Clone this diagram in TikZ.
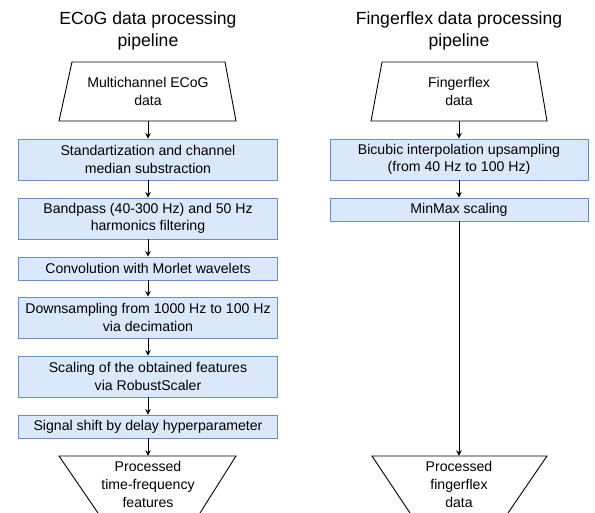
\documentclass[tikz,border=0pt]{standalone}
\usepackage{fontspec}
\setmainfont{Liberation Sans}
\usetikzlibrary{arrows.meta}
\definecolor{boxfill}{HTML}{DAE8FC}
\definecolor{boxline}{HTML}{6C8EBF}
\tikzset{
  stepbox/.style={draw=boxline, fill=boxfill, line width=0.9bp, minimum width=259bp, align=center, inner sep=0pt, font=\fontsize{14.1bp}{17.6bp}\selectfont},
  plain/.style={align=center, inner sep=0pt, font=\fontsize{14.1bp}{17.6bp}\selectfont},
  title/.style={align=center, inner sep=0pt, font=\fontsize{17.6bp}{21.5bp}\selectfont},
  flow/.style={-{Stealth[length=5.5bp,width=5.5bp]}, line width=0.9bp},
  outline/.style={draw=black, line width=0.9bp}
}
\begin{document}
\begin{tikzpicture}[x=1bp,y=-1bp]
\useasboundingbox (0,0) rectangle (595,513);
% Titles
\node[title] (tl) at (148,31) {ECoG data processing\\pipeline};
\node[title] (tr) at (459,31) {Fingerflex data processing\\pipeline};

% ---------- Left column ----------
\draw[outline] (72,62) -- (225,62) -- (236,121) -- (59,121) -- cycle;
\node[plain, minimum width=177bp, minimum height=59bp] (l0) at (148,91.5) {Multichannel ECoG\\data};

\node[stepbox, minimum height=41bp] (l1) at (148,159.5) {Standartization and channel\\median substraction};
\node[stepbox, minimum height=41bp] (l2) at (148,218.5) {Bandpass (40-300 Hz) and 50 Hz\\harmonics filtering};
\node[stepbox, minimum height=23bp] (l3) at (148,268.5) {Convolution with Morlet wavelets};
\node[stepbox, minimum height=41bp] (l4) at (148,317.5) {Downsampling from 1000 Hz to 100 Hz\\via decimation};
\node[stepbox, minimum height=41bp] (l5) at (148,376.5) {Scaling of the obtained features\\via RobustScaler};
\node[stepbox, minimum height=23bp] (l6) at (148,426.5) {Signal shift by delay hyperparameter};

\draw[outline] (98,513) -- (59,456) -- (236,456) -- (200,513);
\node[plain, minimum height=57bp, minimum width=177bp] (l7) at (148,484.5) {Processed\\time-frequency\\features};

\draw[flow] (l0.south) -- (l1.north);
\draw[flow] (l1) -- (l2);
\draw[flow] (l2) -- (l3);
\draw[flow] (l3) -- (l4);
\draw[flow] (l4) -- (l5);
\draw[flow] (l5) -- (l6);
\draw[flow] (l6.south) -- (l7.north);

% ---------- Right column ----------
\draw[outline] (382,62) -- (537,62) -- (547,121) -- (371,121) -- cycle;
\node[plain, minimum width=176bp, minimum height=59bp] (r0) at (459,91.5) {Fingerflex\\data};

\node[stepbox, minimum height=41bp, minimum width=258bp] (r1) at (459,159.5) {Bicubic interpolation upsampling\\(from 40 Hz to 100 Hz)};
\node[stepbox, minimum height=23bp, minimum width=258bp] (r2) at (459,209.5) {MinMax scaling};

\draw[outline] (410,513) -- (372,456) -- (547,456) -- (508,513);
\node[plain, minimum height=57bp, minimum width=175bp] (r3) at (459,484.5) {Processed\\fingerflex\\data};

\draw[flow] (r0.south) -- (r1.north);
\draw[flow] (r1) -- (r2);
\draw[flow] (r2.south) -- (r3.north);
\end{tikzpicture}
\end{document}
